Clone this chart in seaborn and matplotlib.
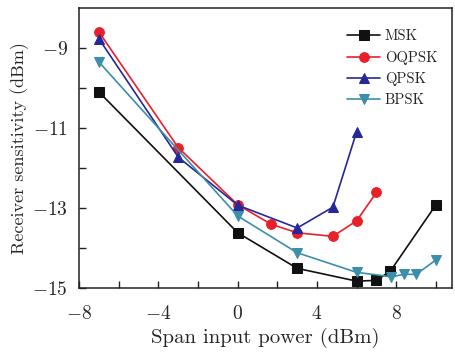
import matplotlib
matplotlib.use('Agg')
import matplotlib.pyplot as plt
import numpy as np
import pandas as pd
import seaborn as sns

# values
msk_x = [-7, 0, 3, 6, 7, 7.7, 10]
msk_y = [-10.1, -13.62, -14.51, -14.83, -14.81, -14.58, -12.92]

oqpsk_x = [-7, -3, 0, 1.7, 3, 4.8, 6, 7]
oqpsk_y = [-8.6, -11.49, -12.92, -13.41, -13.62, -13.71, -13.32, -12.61]

qpsk_x = [-7, -3, 0, 3, 4.8, 6]
qpsk_y = [-8.77, -11.73, -12.93, -13.5, -12.98, -11.09]

bpsk_x = [-7, 0, 3, 6, 7.75, 8.4, 9.0, 10]
bpsk_y = [-9.35, -13.2, -14.12, -14.61, -14.72, -14.66, -14.66, -14.3]

series = [
    ('MSK', msk_x, msk_y, 's', '#111111'),
    ('OQPSK', oqpsk_x, oqpsk_y, 'o', '#e8202a'),
    ('QPSK', qpsk_x, qpsk_y, '^', '#26279a'),
    ('BPSK', bpsk_x, bpsk_y, 'v', '#3c8eab'),
]

sns.set_style('ticks')
plt.rcParams['font.family'] = ['cmr10', 'DejaVu Serif']
plt.rcParams['axes.formatter.use_mathtext'] = True
plt.rcParams['mathtext.fontset'] = 'cm'

fig = plt.figure(figsize=(4.55, 3.52), dpi=100)
ax = fig.add_axes([0.174, 0.182, 0.819, 0.795])

for name, xs, ys, mk, col in series:
    df = pd.DataFrame({'x': xs, 'y': ys})
    sns.lineplot(data=df, x='x', y='y', ax=ax, color=col, marker=mk,
                 markersize=7, markeredgecolor=col, linewidth=1.2,
                 label=name, sort=False)

ax.set_xlim(-8, 10.8)
ax.set_ylim(-15, -8)
ax.set_xticks([-8, -4, 0, 4, 8])
ax.set_xticks(np.arange(-6, 11, 2), minor=True)
ax.set_yticks([-15, -13, -11, -9])
ax.set_yticks([-14, -12, -10], minor=True)
ax.tick_params(direction='in', length=5, width=1, labelsize=14, color='#222222')
ax.tick_params(which='minor', direction='in', length=5, width=1, color='#222222')
ax.tick_params(axis='x', pad=12)
ax.tick_params(axis='y', pad=8)
for s in ax.spines.values():
    s.set_linewidth(1.1)
    s.set_color('#222222')

ax.set_xlabel('Span input power (dBm)', fontsize=15, labelpad=4)
ax.set_ylabel('Receiver sensitivity (dBm)', fontsize=13, labelpad=2)

leg = ax.legend(loc='upper right', frameon=False, fontsize=10.5,
                handlelength=2.3, handletextpad=0.3, labelspacing=0.5,
                borderaxespad=0.6, bbox_to_anchor=(1.0, 0.975))

fig.savefig('out.png', dpi=100)
